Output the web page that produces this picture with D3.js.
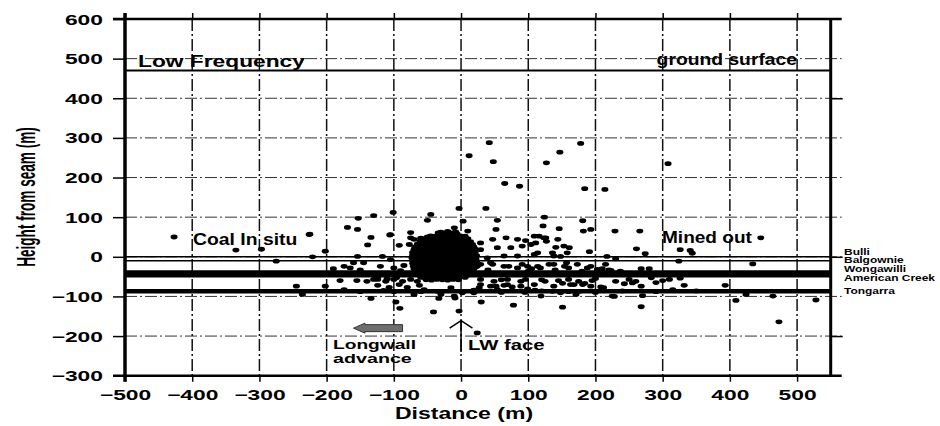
<!DOCTYPE html>
<html>
<head>
<meta charset="utf-8">
<script src="https://cdn.jsdelivr.net/npm/d3@7"></script>
<style>
  body { margin: 0; background: #fff; }
  svg { display: block; font-family: "Liberation Sans", Arial, sans-serif; }
</style>
</head>
<body>
<div id="chart"></div>
<script>
// ---- data ----
const xTicks = [-500, -400, -300, -200, -100, 0, 100, 200, 300, 400, 500];
const yTicks = [-300, -200, -100, 0, 100, 200, 300, 400, 500, 600];
const rightTicks = [400, 0, -200];

const groundSurface = 470;
const seamNames = ["Bulli", "Balgownie", "Wongawilli", "American Creek", "Tongarra"];
const seamLevels = [0, -10, -39, -47, -87];

// scattered events (distance m, height m)
const outerEvents = [
  [42,288],[12,255],[48,240],[65,185],[87,178],[-3,122],[37,122],[124,100],[127,237],[147,264],
  [178,286],[184,172],[214,170],[308,235],
  [-45,107],[-50,92],[-130,104],[-153,97],[-101,112],[-169,74],[-154,69],[-226,56],[-134,49],
  [-106,55],[-139,30],[-75,61],[-10,73],[3,90],[54,92],[181,91],[122,78],[146,71],[182,65],
  [193,69],[229,65],[266,65],[52,69],[10,65],
  [-427,50],[-335,17],[-297,19],[-275,-11],[-225,57],[-221,0],[-202,14],[-245,-74],[-236,-95],
  [-202,-74],[-174,-24],[-174,-83],[-134,-105],[-91,-130],[-97,-114],[-41,-139],[-3,-137],
  [30,-114],[78,-122],[151,-127],[24,-192],[-33,-105],[-9,-104],[119,-99],[225,-99],[171,-95],
  [261,20],[274,8],[326,18],[341,16],[344,9],[324,-11],[446,48],[434,-18],[217,1],[230,-5],
  [223,-34],[237,-36],[268,-30],[283,-53],[310,-57],[326,-54],[332,-72],[393,-72],[243,-68],
  [255,-66],[268,-74],[212,-78],[228,-100],[270,-98],[268,-126],[315,-83],[409,-110],[424,-95],
  [464,-99],[473,-164],[528,-109]
];

// events in the band around the seam, either side of the core
const bandEvents = [
  [104,31],[111,35],[141,24],[153,27],[161,23],[191,13],[114,10],[136,10],[148,1],[138,-19],
  [157,-15],[188,-28],[203,-32],[96,41],[123,48],[127,39],[116,52],
  [151,-67],[163,-70],[181,-70],[184,-67],[208,-76],[148,-91],[136,-87],[176,-87],
  [29,35],[47,44],[67,48],[84,44],[109,52],[126,48],[144,44],
  [29,18],[54,23],[74,23],[91,27],
  [39,-3],[64,2],[84,2],[109,6],[138,2],[158,10],
  [24,-24],[47,-19],[71,-24],[91,-19],[114,-24],[131,-19],[154,-24],[173,-19],[193,-24],[215,-19],
  [29,-70],[52,-74],[69,-70],[89,-74],[109,-70],[138,-74],[168,-70],[193,-74],
  [29,-19],[44,-15],[64,-24],[84,-28],[99,-24],
  [29,-57],[49,-62],[69,-57],[89,-62],
  [27,-78],[54,-83],[76,-76],[99,-81],[44,-74],[64,-72],[96,-57],
  [-55,-83],[-35,-87],[-15,-78],[2,-91],[19,-84],[-70,-95],[-10,-99],[19,-91],
  [-124,-57],[-112,-62],[-100,-57],[-87,-62],[-75,-57],[-65,-62],
  [-124,-72],[-107,-77],[-92,-70],[-80,-77],[-62,-72],
  [-120,-24],[-100,-28],[-85,-22],[-160,-15],[-145,-15],[-117,1],[-105,-7],[-154,1],
  [-124,-53],[-110,-56],[-96,-53],
  [-92,29],[-77,31],[-75,48],[-105,56],[-20,64],[-70,44],[-60,47],[-50,50],[-30,62],[-8,63],
  [-150,-33],[-130,-57],[-90,-35],[40,-33],[60,-58],[100,-36],[120,-58],[140,-33],[160,-57],
  [180,-36],[200,-55],[220,-33],[250,-57],[170,-45],[130,-45],[80,-45],[50,-45],
  [-150,-88],[-60,-88],[120,-86],[160,-88],[200,-90],[240,-86],[290,-88],[350,-86],
  [105,-30],[118,-28],[125,-62],[145,-60],[160,-28],[175,-62],[195,-60],[210,-30],[230,-62],
  [260,-62],[280,-30],[290,-65],[300,-60],[-140,-62],[-155,-60],[-180,-60],[-165,-28],[-190,-30],
  [110,-84],[95,-90],[60,-90],[-30,-95],[-100,-88],[-115,-85]
];

// dense core just behind the face
const coreEvents = [
  [-34,60],[-27,59],[-20,61],[-13,60],[-6,58],
  [-45,53],[-38,52],[-30,54],[-23,53],[-16,52],[-8,54],[-1,53],[6,52],
  [-55,46],[-48,47],[-41,45],[-34,46],[-27,47],[-19,45],[-12,46],[-5,47],[3,45],[10,46],
  [-61,39],[-52,38],[-45,40],[-37,39],[-30,38],[-23,40],[-15,39],[-8,38],[-1,40],[7,39],[14,38],
  [-65,32],[-58,33],[-50,31],[-43,32],[-35,33],[-28,31],[-20,32],[-13,33],[-5,31],[2,32],[10,33],[17,31],
  [-69,25],[-62,24],[-55,26],[-47,25],[-40,24],[-32,26],[-25,25],[-17,24],[-10,26],[-2,25],[5,24],[13,26],[19,25],
  [-70,18],[-65,19],[-58,17],[-51,18],[-43,19],[-36,17],[-28,18],[-21,19],[-13,17],[-6,18],[2,19],[9,17],[16,18],[21,19],
  [-72,11],[-68,10],[-61,12],[-54,11],[-46,10],[-39,12],[-31,11],[-24,10],[-16,12],[-9,11],[-1,10],[6,12],[14,11],[21,10],
  [-72,4],[-65,3],[-57,5],[-50,4],[-42,3],[-35,5],[-27,4],[-20,3],[-12,5],[-5,4],[3,3],[10,5],[18,4],[23,3],
  [-73,-3],[-68,-4],[-61,-2],[-53,-3],[-46,-4],[-38,-2],[-31,-3],[-23,-4],[-16,-2],[-8,-3],[-1,-4],[7,-2],[14,-3],[22,-4],
  [-72,-10],[-65,-11],[-57,-9],[-50,-10],[-42,-11],[-35,-9],[-27,-10],[-20,-11],[-12,-9],[-5,-10],[3,-11],[10,-9],[18,-10],[23,-11],
  [-72,-17],[-68,-18],[-61,-16],[-53,-17],[-46,-18],[-38,-16],[-31,-17],[-23,-18],[-16,-16],[-8,-17],[-1,-18],[7,-16],[14,-17],[22,-18],
  [-71,-24],[-65,-25],[-57,-23],[-50,-24],[-42,-25],[-35,-23],[-27,-24],[-20,-25],[-12,-23],[-5,-24],[3,-25],[10,-23],[18,-24],[22,-25],
  [-70,-31],[-62,-32],[-54,-30],[-47,-31],[-39,-32],[-32,-30],[-24,-31],[-17,-32],[-9,-30],[-2,-31],[6,-32],[13,-30],[19,-31],
  [-68,-38],[-60,-39],[-53,-37],[-45,-38],[-38,-39],[-30,-37],[-23,-38],[-15,-39],[-8,-37],[0,-38],[7,-39],[15,-37],
  [-65,-45],[-58,-46],[-50,-44],[-43,-45],[-35,-46],[-28,-44],[-20,-45],[-13,-46],[-5,-44],[2,-45],[10,-46],[14,-44],
  [-60,-52],[-54,-53],[-46,-51],[-39,-52],[-31,-53],[-24,-51],[-16,-52],[-9,-53],[-1,-51],[6,-52],
  [-52,-58],[-44,-59],[-36,-57],[-28,-58],[-20,-59],[-12,-57],[-4,-58]
];

// ---- layout ----
const W = 940, H = 426;
const svg = d3.select("#chart").append("svg")
  .attr("width", W).attr("height", H);

const x = d3.scaleLinear().domain([-500, 550]).range([125, 830.7]);
const y = d3.scaleLinear().domain([-300, 600]).range([375.7, 19]);

const dash = "12,3,2,3";
const xL = x(-500), xR = x(550);

// stretched text helper (the figure is widened horizontally)
function label(g, str, px, py, o) {
  return g.append("text")
    .attr("transform", `translate(${px},${py}) scale(${o.sx},1)` + (o.rot ? " rotate(-90)" : ""))
    .attr("text-anchor", o.anchor || "start")
    .style("font-size", o.size + "px")
    .style("font-weight", "bold")
    .text(str);
}

// gridlines
svg.append("g").selectAll("line")
  .data(yTicks.filter(v => v > -300 && v < 600))
  .join("line")
  .attr("x1", xL).attr("x2", xR + 11)
  .attr("y1", d => y(d)).attr("y2", d => y(d))
  .attr("stroke", "#333").attr("stroke-width", 1)
  .attr("stroke-dasharray", dash);

svg.append("g").selectAll("line")
  .data(xTicks.filter(v => v > -500))
  .join("line")
  .attr("x1", d => x(d)).attr("x2", d => x(d))
  .attr("y1", y(600)).attr("y2", y(-300))
  .attr("stroke", "#111").attr("stroke-width", 1.5)
  .attr("stroke-dasharray", dash);

// seam lines and ground surface
const seamWidth = [1.4, 1.4, 4, 4, 4.5];
svg.append("g").selectAll("line")
  .data(seamLevels)
  .join("line")
  .attr("x1", xL).attr("x2", xR)
  .attr("y1", d => y(d)).attr("y2", d => y(d))
  .attr("stroke", "#000")
  .attr("stroke-width", (d, i) => seamWidth[i]);

svg.append("line")
  .attr("x1", xL).attr("x2", xR)
  .attr("y1", y(groundSurface)).attr("y2", y(groundSurface))
  .attr("stroke", "#000").attr("stroke-width", 1.8);

// events
const allEvents = outerEvents.concat(bandEvents, coreEvents);
svg.append("g").selectAll("ellipse")
  .data(allEvents)
  .join("ellipse")
  .attr("cx", d => x(d[0]))
  .attr("cy", d => y(d[1]))
  .attr("rx", 3.5).attr("ry", 2.4)
  .attr("fill", "#000");

// axes
const sx = 1.63;
const left = svg.append("g")
  .attr("transform", `translate(${xL},0)`)
  .call(d3.axisLeft(y).tickValues(yTicks).tickSize(12).tickPadding(10));
const bottom = svg.append("g")
  .attr("transform", `translate(0,${y(-300)})`)
  .call(d3.axisBottom(x).tickValues(xTicks).tickSize(6).tickPadding(8));
svg.append("g")
  .attr("transform", `translate(0,${y(600)})`)
  .call(d3.axisTop(x).tickValues(xTicks).tickSize(6).tickFormat(""));
svg.append("g")
  .attr("transform", `translate(${xR},0)`)
  .call(d3.axisRight(y).tickValues(rightTicks).tickSize(12).tickFormat(""));

svg.selectAll(".domain").remove();
svg.selectAll(".tick line").attr("stroke", "#000").attr("stroke-width", 1.5);
svg.selectAll(".tick text")
  .attr("fill", "#000")
  .style("font-family", "'Liberation Sans', Arial, sans-serif")
  .style("font-size", "14px")
  .style("font-weight", "bold");
left.selectAll(".tick text").attr("x", -22 / sx).attr("dy", "0.36em")
  .attr("transform", `scale(${sx},1)`);
bottom.selectAll(".tick text").attr("transform", `scale(${sx},1)`);

// frame
svg.append("line").attr("x1", xL - 12).attr("x2", xR + 11)
  .attr("y1", y(600)).attr("y2", y(600)).attr("stroke", "#000").attr("stroke-width", 2.5);
svg.append("line").attr("x1", xL - 12).attr("x2", xR + 11)
  .attr("y1", y(-300)).attr("y2", y(-300)).attr("stroke", "#000").attr("stroke-width", 2.5);
svg.append("line").attr("x1", xL).attr("x2", xL)
  .attr("y1", y(600) - 6).attr("y2", y(-300) + 6).attr("stroke", "#000").attr("stroke-width", 3.5);
svg.append("line").attr("x1", xR).attr("x2", xR)
  .attr("y1", y(600)).attr("y2", y(-300)).attr("stroke", "#000").attr("stroke-width", 3);

// axis titles
label(svg, "Distance (m)", 464, 419, { sx: 1.44, size: 16, anchor: "middle" });
label(svg, "Height from seam (m)", 35, 197, { sx: 1.95, size: 13.6, anchor: "middle", rot: true });

// annotations
label(svg, "Low Frequency", 138, 67, { sx: 1.34, size: 17 });
label(svg, "ground surface", 797, 65, { sx: 1.17, size: 16.5, anchor: "end" });
label(svg, "Coal In situ", 193, 245, { sx: 1.21, size: 16 });
label(svg, "Mined out", 662, 243, { sx: 1.19, size: 16 });
label(svg, "Longwall", 333, 349, { sx: 1.42, size: 13.5 });
label(svg, "advance", 333, 363, { sx: 1.46, size: 13.5 });
label(svg, "LW face", 468, 350, { sx: 1.45, size: 14 });

// seam names at right (tightly stacked, as in the figure)
const seamLabelShift = [-2, 2, 0, 6, 3];
seamNames.forEach((s, i) => {
  label(svg, s, 844, y(seamLevels[i]) + seamLabelShift[i], { sx: 1.3, size: 9.2 });
});

// longwall advance arrow
const ay = y(-180);
const arrow = d3.path();
arrow.moveTo(x(-160), ay);
arrow.lineTo(x(-143), ay - 5);
arrow.lineTo(x(-143), ay - 3.5);
arrow.lineTo(x(-87), ay - 3.5);
arrow.lineTo(x(-87), ay + 3.5);
arrow.lineTo(x(-143), ay + 3.5);
arrow.lineTo(x(-143), ay + 5);
arrow.closePath();
svg.append("path").attr("d", arrow.toString())
  .attr("fill", "#6e6e6e").attr("stroke", "#333").attr("stroke-width", 1);

// LW face marker
svg.append("line").attr("x1", x(0)).attr("x2", x(0))
  .attr("y1", y(-161)).attr("y2", y(-240))
  .attr("stroke", "#000").attr("stroke-width", 1.5);
svg.append("path")
  .attr("d", d3.line()([[x(-17), y(-180)], [x(0), y(-161)], [x(17), y(-180)]]))
  .attr("fill", "none").attr("stroke", "#000").attr("stroke-width", 1.5);
</script>
</body>
</html>
